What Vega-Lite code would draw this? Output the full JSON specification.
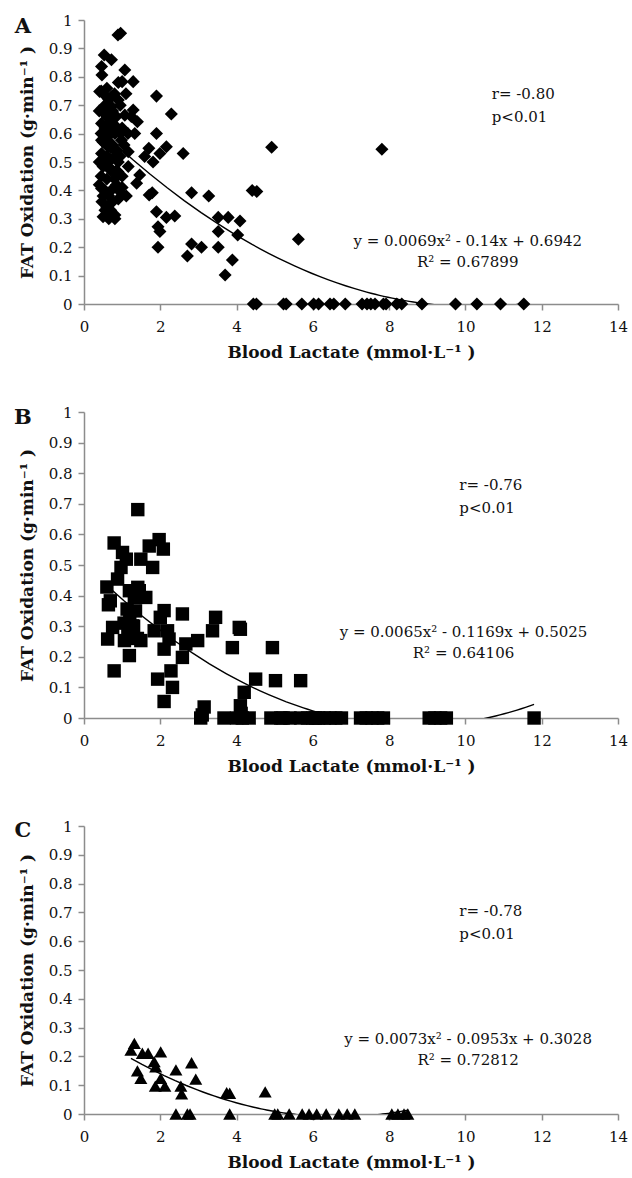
{
  "$schema": "https://vega.github.io/schema/vega-lite/v6.json",
  "background": "white",
  "padding": {"left": 14, "top": 13, "right": 0, "bottom": 3},
  "bounds": "flush",
  "spacing": 108,
  "config": {
    "font": "DejaVu Serif",
    "view": {"stroke": null},
    "axis": {
      "grid": false,
      "labelOverlap": false,
      "labelFlush": false,
      "labelSeparation": 0,
      "domainColor": "#8c8c8c",
      "domainWidth": 1.5,
      "tickColor": "#8c8c8c",
      "tickWidth": 1.5,
      "tickSize": 6,
      "labelFont": "DejaVu Serif",
      "labelFontSize": 15,
      "labelColor": "#111111",
      "titleFont": "DejaVu Serif",
      "titleFontSize": 17,
      "titleFontWeight": "bold",
      "titleColor": "#111111"
    },
    "axisX": {"labelPadding": 9, "titlePadding": 10},
    "axisY": {"labelPadding": 6, "titlePadding": 12}
  },
  "datasets": {
    "pts": [
      {"panel":"A","lactate":0.89,"fat":0.947},{"panel":"A","lactate":0.96,"fat":0.953},{"panel":"A","lactate":0.53,"fat":0.877},{"panel":"A","lactate":0.72,"fat":0.86},
      {"panel":"A","lactate":0.46,"fat":0.836},{"panel":"A","lactate":0.47,"fat":0.806},{"panel":"A","lactate":1.07,"fat":0.824},{"panel":"A","lactate":1.29,"fat":0.783},
      {"panel":"A","lactate":1.0,"fat":0.783},{"panel":"A","lactate":0.9,"fat":0.78},{"panel":"A","lactate":0.41,"fat":0.748},{"panel":"A","lactate":0.54,"fat":0.736},
      {"panel":"A","lactate":0.72,"fat":0.73},{"panel":"A","lactate":0.9,"fat":0.718},{"panel":"A","lactate":1.9,"fat":0.732},{"panel":"A","lactate":2.29,"fat":0.669},
      {"panel":"A","lactate":1.29,"fat":0.683},{"panel":"A","lactate":1.07,"fat":0.665},{"panel":"A","lactate":0.5,"fat":0.689},{"panel":"A","lactate":0.72,"fat":0.695},
      {"panel":"A","lactate":1.4,"fat":0.642},{"panel":"A","lactate":1.24,"fat":0.66},{"panel":"A","lactate":0.46,"fat":0.636},{"panel":"A","lactate":0.63,"fat":0.624},
      {"panel":"A","lactate":0.81,"fat":0.6},{"panel":"A","lactate":1.33,"fat":0.6},{"panel":"A","lactate":1.9,"fat":0.6},{"panel":"A","lactate":0.46,"fat":0.577},
      {"panel":"A","lactate":0.63,"fat":0.554},{"panel":"A","lactate":0.98,"fat":0.577},{"panel":"A","lactate":1.7,"fat":0.548},{"panel":"A","lactate":2.16,"fat":0.554},
      {"panel":"A","lactate":1.99,"fat":0.53},{"panel":"A","lactate":2.6,"fat":0.53},{"panel":"A","lactate":4.92,"fat":0.552},{"panel":"A","lactate":1.16,"fat":0.536},
      {"panel":"A","lactate":0.46,"fat":0.53},{"panel":"A","lactate":0.8,"fat":0.519},{"panel":"A","lactate":1.59,"fat":0.519},{"panel":"A","lactate":1.81,"fat":0.5},
      {"panel":"A","lactate":1.16,"fat":0.484},{"panel":"A","lactate":0.5,"fat":0.484},{"panel":"A","lactate":0.89,"fat":0.466},{"panel":"A","lactate":1.46,"fat":0.454},
      {"panel":"A","lactate":1.38,"fat":0.425},{"panel":"A","lactate":0.46,"fat":0.407},{"panel":"A","lactate":0.72,"fat":0.401},{"panel":"A","lactate":0.94,"fat":0.396},
      {"panel":"A","lactate":1.11,"fat":0.38},{"panel":"A","lactate":0.47,"fat":0.36},{"panel":"A","lactate":1.71,"fat":0.384},{"panel":"A","lactate":1.79,"fat":0.392},
      {"panel":"A","lactate":2.82,"fat":0.392},{"panel":"A","lactate":3.27,"fat":0.38},{"panel":"A","lactate":4.41,"fat":0.4},{"panel":"A","lactate":4.53,"fat":0.396},
      {"panel":"A","lactate":0.5,"fat":0.307},{"panel":"A","lactate":0.81,"fat":0.313},{"panel":"A","lactate":0.81,"fat":0.3},{"panel":"A","lactate":1.9,"fat":0.325},
      {"panel":"A","lactate":2.16,"fat":0.305},{"panel":"A","lactate":2.38,"fat":0.31},{"panel":"A","lactate":1.94,"fat":0.272},{"panel":"A","lactate":1.99,"fat":0.255},
      {"panel":"A","lactate":3.52,"fat":0.305},{"panel":"A","lactate":3.78,"fat":0.305},{"panel":"A","lactate":4.09,"fat":0.292},{"panel":"A","lactate":3.52,"fat":0.255},
      {"panel":"A","lactate":4.03,"fat":0.243},{"panel":"A","lactate":1.94,"fat":0.2},{"panel":"A","lactate":2.82,"fat":0.211},{"panel":"A","lactate":3.08,"fat":0.2},
      {"panel":"A","lactate":3.52,"fat":0.2},{"panel":"A","lactate":2.71,"fat":0.169},{"panel":"A","lactate":3.89,"fat":0.155},{"panel":"A","lactate":3.7,"fat":0.102},
      {"panel":"A","lactate":5.62,"fat":0.228},{"panel":"A","lactate":7.81,"fat":0.545},
      {"panel":"A","lactate":0.45,"fat":0.75},{"panel":"A","lactate":0.55,"fat":0.7},{"panel":"A","lactate":0.6,"fat":0.66},{"panel":"A","lactate":0.65,"fat":0.72},
      {"panel":"A","lactate":0.75,"fat":0.68},{"panel":"A","lactate":0.85,"fat":0.66},{"panel":"A","lactate":0.55,"fat":0.62},{"panel":"A","lactate":0.7,"fat":0.6},
      {"panel":"A","lactate":0.6,"fat":0.58},{"panel":"A","lactate":0.75,"fat":0.56},{"panel":"A","lactate":0.85,"fat":0.54},{"panel":"A","lactate":0.55,"fat":0.5},
      {"panel":"A","lactate":0.65,"fat":0.5},{"panel":"A","lactate":0.7,"fat":0.47},{"panel":"A","lactate":0.6,"fat":0.44},{"panel":"A","lactate":0.8,"fat":0.44},
      {"panel":"A","lactate":0.65,"fat":0.38},{"panel":"A","lactate":0.55,"fat":0.4},{"panel":"A","lactate":0.75,"fat":0.36},{"panel":"A","lactate":0.85,"fat":0.42},
      {"panel":"A","lactate":1.0,"fat":0.45},{"panel":"A","lactate":1.0,"fat":0.62},{"panel":"A","lactate":0.95,"fat":0.7},{"panel":"A","lactate":1.05,"fat":0.56},
      {"panel":"A","lactate":0.6,"fat":0.76},{"panel":"A","lactate":0.7,"fat":0.64},{"panel":"A","lactate":0.9,"fat":0.5},{"panel":"A","lactate":0.95,"fat":0.6},
      {"panel":"A","lactate":0.45,"fat":0.6},{"panel":"A","lactate":0.45,"fat":0.45},{"panel":"A","lactate":0.55,"fat":0.33},{"panel":"A","lactate":0.65,"fat":0.3},
      {"panel":"A","lactate":0.4,"fat":0.68},{"panel":"A","lactate":0.5,"fat":0.57},{"panel":"A","lactate":0.6,"fat":0.52},{"panel":"A","lactate":0.7,"fat":0.55},
      {"panel":"A","lactate":0.8,"fat":0.63},{"panel":"A","lactate":0.9,"fat":0.61},{"panel":"A","lactate":0.75,"fat":0.47},{"panel":"A","lactate":0.85,"fat":0.47},
      {"panel":"A","lactate":0.95,"fat":0.52},{"panel":"A","lactate":0.65,"fat":0.62},{"panel":"A","lactate":0.55,"fat":0.67},{"panel":"A","lactate":0.8,"fat":0.74},
      {"panel":"A","lactate":1.1,"fat":0.74},{"panel":"A","lactate":1.15,"fat":0.6},{"panel":"A","lactate":0.6,"fat":0.34},{"panel":"A","lactate":0.7,"fat":0.33},
      {"panel":"A","lactate":0.9,"fat":0.37},{"panel":"A","lactate":1.0,"fat":0.41},{"panel":"A","lactate":0.4,"fat":0.5},{"panel":"A","lactate":0.4,"fat":0.42},
      {"panel":"A","lactate":0.5,"fat":0.38},
      {"panel":"A","lactate":4.44,"fat":0},{"panel":"A","lactate":4.52,"fat":0},{"panel":"A","lactate":5.23,"fat":0},{"panel":"A","lactate":5.3,"fat":0},
      {"panel":"A","lactate":5.71,"fat":0},{"panel":"A","lactate":6.02,"fat":0},{"panel":"A","lactate":6.15,"fat":0},{"panel":"A","lactate":6.45,"fat":0},
      {"panel":"A","lactate":6.55,"fat":0},{"panel":"A","lactate":6.85,"fat":0},{"panel":"A","lactate":7.29,"fat":0},{"panel":"A","lactate":7.42,"fat":0},
      {"panel":"A","lactate":7.52,"fat":0},{"panel":"A","lactate":7.63,"fat":0},{"panel":"A","lactate":7.85,"fat":0},{"panel":"A","lactate":7.92,"fat":0},
      {"panel":"A","lactate":8.2,"fat":0},{"panel":"A","lactate":8.33,"fat":0},{"panel":"A","lactate":8.86,"fat":0},{"panel":"A","lactate":9.74,"fat":0},
      {"panel":"A","lactate":10.3,"fat":0},{"panel":"A","lactate":10.92,"fat":0},{"panel":"A","lactate":11.53,"fat":0},

      {"panel":"B","lactate":1.41,"fat":0.681},{"panel":"B","lactate":0.79,"fat":0.572},{"panel":"B","lactate":1.97,"fat":0.583},{"panel":"B","lactate":2.08,"fat":0.552},
      {"panel":"B","lactate":1.71,"fat":0.562},{"panel":"B","lactate":1.01,"fat":0.541},{"panel":"B","lactate":1.11,"fat":0.519},{"panel":"B","lactate":1.49,"fat":0.519},
      {"panel":"B","lactate":1.8,"fat":0.492},{"panel":"B","lactate":0.97,"fat":0.492},{"panel":"B","lactate":0.88,"fat":0.454},{"panel":"B","lactate":0.6,"fat":0.428},
      {"panel":"B","lactate":1.41,"fat":0.427},{"panel":"B","lactate":0.69,"fat":0.383},{"panel":"B","lactate":1.19,"fat":0.416},{"panel":"B","lactate":1.45,"fat":0.416},
      {"panel":"B","lactate":1.62,"fat":0.394},{"panel":"B","lactate":1.32,"fat":0.394},{"panel":"B","lactate":1.13,"fat":0.356},{"panel":"B","lactate":2.1,"fat":0.351},
      {"panel":"B","lactate":2.58,"fat":0.34},{"panel":"B","lactate":3.45,"fat":0.329},{"panel":"B","lactate":2.0,"fat":0.329},{"panel":"B","lactate":0.75,"fat":0.296},
      {"panel":"B","lactate":1.27,"fat":0.301},{"panel":"B","lactate":1.84,"fat":0.285},{"panel":"B","lactate":2.19,"fat":0.285},{"panel":"B","lactate":3.37,"fat":0.285},
      {"panel":"B","lactate":4.07,"fat":0.296},{"panel":"B","lactate":4.1,"fat":0.29},{"panel":"B","lactate":0.62,"fat":0.258},{"panel":"B","lactate":1.06,"fat":0.253},
      {"panel":"B","lactate":1.49,"fat":0.253},{"panel":"B","lactate":2.67,"fat":0.242},{"panel":"B","lactate":2.98,"fat":0.253},{"panel":"B","lactate":2.23,"fat":0.258},
      {"panel":"B","lactate":1.19,"fat":0.204},{"panel":"B","lactate":2.1,"fat":0.225},{"panel":"B","lactate":2.58,"fat":0.198},{"panel":"B","lactate":3.89,"fat":0.23},
      {"panel":"B","lactate":4.94,"fat":0.23},{"panel":"B","lactate":0.79,"fat":0.154},{"panel":"B","lactate":2.28,"fat":0.154},{"panel":"B","lactate":1.93,"fat":0.127},
      {"panel":"B","lactate":4.5,"fat":0.127},{"panel":"B","lactate":5.02,"fat":0.122},{"panel":"B","lactate":5.68,"fat":0.122},{"panel":"B","lactate":2.32,"fat":0.1},
      {"panel":"B","lactate":4.2,"fat":0.084},{"panel":"B","lactate":2.1,"fat":0.054},{"panel":"B","lactate":3.15,"fat":0.036},{"panel":"B","lactate":4.1,"fat":0.04},
      {"panel":"B","lactate":4.12,"fat":0.015},{"panel":"B","lactate":3.1,"fat":0.01},
      {"panel":"B","lactate":1.2,"fat":0.33},{"panel":"B","lactate":1.3,"fat":0.3},{"panel":"B","lactate":1.25,"fat":0.27},{"panel":"B","lactate":1.15,"fat":0.28},
      {"panel":"B","lactate":1.35,"fat":0.35},{"panel":"B","lactate":1.05,"fat":0.31},{"panel":"B","lactate":1.4,"fat":0.26},{"panel":"B","lactate":0.64,"fat":0.37},
      {"panel":"B","lactate":3.06,"fat":0},{"panel":"B","lactate":3.67,"fat":0},{"panel":"B","lactate":4.0,"fat":0},{"panel":"B","lactate":4.15,"fat":0},
      {"panel":"B","lactate":4.33,"fat":0},{"panel":"B","lactate":4.9,"fat":0},{"panel":"B","lactate":5.16,"fat":0},{"panel":"B","lactate":5.22,"fat":0},
      {"panel":"B","lactate":5.4,"fat":0},{"panel":"B","lactate":5.68,"fat":0},{"panel":"B","lactate":5.86,"fat":0},{"panel":"B","lactate":6.0,"fat":0},
      {"panel":"B","lactate":6.07,"fat":0},{"panel":"B","lactate":6.15,"fat":0},{"panel":"B","lactate":6.3,"fat":0},{"panel":"B","lactate":6.45,"fat":0},
      {"panel":"B","lactate":6.6,"fat":0},{"panel":"B","lactate":6.75,"fat":0},{"panel":"B","lactate":7.25,"fat":0},{"panel":"B","lactate":7.4,"fat":0},
      {"panel":"B","lactate":7.55,"fat":0},{"panel":"B","lactate":7.7,"fat":0},{"panel":"B","lactate":7.85,"fat":0},{"panel":"B","lactate":9.05,"fat":0},
      {"panel":"B","lactate":9.2,"fat":0},{"panel":"B","lactate":9.35,"fat":0},{"panel":"B","lactate":9.5,"fat":0},{"panel":"B","lactate":11.8,"fat":0},

      {"panel":"C","lactate":1.32,"fat":0.245},{"panel":"C","lactate":1.23,"fat":0.222},{"panel":"C","lactate":1.53,"fat":0.211},{"panel":"C","lactate":1.68,"fat":0.211},
      {"panel":"C","lactate":2.01,"fat":0.216},{"panel":"C","lactate":1.84,"fat":0.182},{"panel":"C","lactate":1.88,"fat":0.164},{"panel":"C","lactate":1.4,"fat":0.15},
      {"panel":"C","lactate":1.49,"fat":0.124},{"panel":"C","lactate":2.41,"fat":0.153},{"panel":"C","lactate":2.82,"fat":0.178},{"panel":"C","lactate":2.93,"fat":0.121},
      {"panel":"C","lactate":2.01,"fat":0.124},{"panel":"C","lactate":1.87,"fat":0.097},{"panel":"C","lactate":2.12,"fat":0.097},{"panel":"C","lactate":2.54,"fat":0.097},
      {"panel":"C","lactate":2.56,"fat":0.07},{"panel":"C","lactate":3.74,"fat":0.074},{"panel":"C","lactate":3.82,"fat":0.072},{"panel":"C","lactate":4.75,"fat":0.077},
      {"panel":"C","lactate":2.41,"fat":0},{"panel":"C","lactate":2.71,"fat":0},{"panel":"C","lactate":2.78,"fat":0},{"panel":"C","lactate":3.82,"fat":0},
      {"panel":"C","lactate":5.0,"fat":0},{"panel":"C","lactate":5.08,"fat":0},{"panel":"C","lactate":5.38,"fat":0},{"panel":"C","lactate":5.72,"fat":0},
      {"panel":"C","lactate":5.9,"fat":0},{"panel":"C","lactate":6.1,"fat":0},{"panel":"C","lactate":6.35,"fat":0},{"panel":"C","lactate":6.68,"fat":0},
      {"panel":"C","lactate":6.9,"fat":0},{"panel":"C","lactate":7.1,"fat":0},{"panel":"C","lactate":8.07,"fat":0},{"panel":"C","lactate":8.23,"fat":0},
      {"panel":"C","lactate":8.39,"fat":0},{"panel":"C","lactate":8.49,"fat":0}
    ],
    "notes": [
      {"panel":"A","letter":"A","stats":["r= -0.80","p<0.01"],"equation":["y = 0.0069x² - 0.14x + 0.6942","R² = 0.67899"]},
      {"panel":"B","letter":"B","stats":["r= -0.76","p<0.01"],"equation":["y = 0.0065x² - 0.1169x + 0.5025","R² = 0.64106"]},
      {"panel":"C","letter":"C","stats":["r= -0.78","p<0.01"],"equation":["y = 0.0073x² - 0.0953x + 0.3028","R² = 0.72812"]}
    ]
  },
  "vconcat": [
    {
      "width": 534, "height": 284,
      "layer": [
        {
          "data": {"name": "pts"},
          "transform": [{"filter": "datum.panel === 'A'"}],
          "mark": {"type": "point", "shape": "diamond", "filled": true, "color": "black", "opacity": 1, "size": 170},
          "encoding": {
            "x": {"field": "lactate", "type": "quantitative", "scale": {"domain": [0, 14], "nice": false},
                  "axis": {"values": [0,2,4,6,8,10,12,14], "tickCount": 20, "format": "~g", "labelFlush": false, "title": "Blood Lactate (mmol·L⁻¹ )"}},
            "y": {"field": "fat", "type": "quantitative", "scale": {"domain": [0, 1], "nice": false},
                  "axis": {"values": [0,0.1,0.2,0.3,0.4,0.5,0.6,0.7,0.8,0.9,1], "tickCount": 20, "format": "~g", "labelOverlap": false, "labelFlush": false, "title": "FAT Oxidation (g·min⁻¹ )"}}
          }
        },
        {
          "data": {"name": "pts"},
          "transform": [{"filter": "datum.panel === 'A'"}, {"regression": "fat", "on": "lactate", "method": "poly", "order": 2}],
          "mark": {"type": "line", "clip": true, "color": "black", "strokeWidth": 1.4},
          "encoding": {"x": {"field": "lactate", "type": "quantitative"}, "y": {"field": "fat", "type": "quantitative"}}
        },
        {
          "data": {"name": "notes"},
          "transform": [{"filter": "datum.panel === 'A'"}],
          "mark": {"type": "text", "align": "left", "baseline": "alphabetic", "fontSize": 15, "lineHeight": 23, "color": "#111111"},
          "encoding": {"x": {"datum": 10.69}, "y": {"datum": 0.722}, "text": {"field": "stats"}}
        },
        {
          "data": {"name": "notes"},
          "transform": [{"filter": "datum.panel === 'A'"}],
          "mark": {"type": "text", "align": "center", "baseline": "alphabetic", "fontSize": 15, "lineHeight": 21, "color": "#111111"},
          "encoding": {"x": {"datum": 10.06}, "y": {"datum": 0.204}, "text": {"field": "equation"}}
        },
        {
          "data": {"name": "notes"},
          "transform": [{"filter": "datum.panel === 'A'"}],
          "mark": {"type": "text", "align": "center", "baseline": "alphabetic", "fontSize": 21, "fontWeight": "bold", "color": "#111111"},
          "encoding": {"x": {"datum": -1.6}, "y": {"datum": 0.954}, "text": {"field": "letter"}}
        }
      ]
    },
    {
      "width": 534, "height": 306,
      "layer": [
        {
          "data": {"name": "pts"},
          "transform": [{"filter": "datum.panel === 'B'"}],
          "mark": {"type": "point", "shape": "square", "filled": true, "color": "black", "opacity": 1, "size": 180},
          "encoding": {
            "x": {"field": "lactate", "type": "quantitative", "scale": {"domain": [0, 14], "nice": false},
                  "axis": {"values": [0,2,4,6,8,10,12,14], "tickCount": 20, "format": "~g", "labelFlush": false, "title": "Blood Lactate (mmol·L⁻¹ )"}},
            "y": {"field": "fat", "type": "quantitative", "scale": {"domain": [0, 1], "nice": false},
                  "axis": {"values": [0,0.1,0.2,0.3,0.4,0.5,0.6,0.7,0.8,0.9,1], "tickCount": 20, "format": "~g", "labelOverlap": false, "labelFlush": false, "title": "FAT Oxidation (g·min⁻¹ )"}}
          }
        },
        {
          "data": {"name": "pts"},
          "transform": [{"filter": "datum.panel === 'B'"}, {"regression": "fat", "on": "lactate", "method": "poly", "order": 2}],
          "mark": {"type": "line", "clip": true, "color": "black", "strokeWidth": 1.4},
          "encoding": {"x": {"field": "lactate", "type": "quantitative"}, "y": {"field": "fat", "type": "quantitative"}}
        },
        {
          "data": {"name": "notes"},
          "transform": [{"filter": "datum.panel === 'B'"}],
          "mark": {"type": "text", "align": "left", "baseline": "alphabetic", "fontSize": 15, "lineHeight": 23, "color": "#111111"},
          "encoding": {"x": {"datum": 9.84}, "y": {"datum": 0.745}, "text": {"field": "stats"}}
        },
        {
          "data": {"name": "notes"},
          "transform": [{"filter": "datum.panel === 'B'"}],
          "mark": {"type": "text", "align": "center", "baseline": "alphabetic", "fontSize": 15, "lineHeight": 21, "color": "#111111"},
          "encoding": {"x": {"datum": 9.95}, "y": {"datum": 0.265}, "text": {"field": "equation"}}
        },
        {
          "data": {"name": "notes"},
          "transform": [{"filter": "datum.panel === 'B'"}],
          "mark": {"type": "text", "align": "center", "baseline": "alphabetic", "fontSize": 21, "fontWeight": "bold", "color": "#111111"},
          "encoding": {"x": {"datum": -1.6}, "y": {"datum": 0.961}, "text": {"field": "letter"}}
        }
      ]
    },
    {
      "width": 534, "height": 288,
      "layer": [
        {
          "data": {"name": "pts"},
          "transform": [{"filter": "datum.panel === 'C'"}],
          "mark": {"type": "point", "shape": "triangle-up", "filled": true, "color": "black", "opacity": 1, "size": 170},
          "encoding": {
            "x": {"field": "lactate", "type": "quantitative", "scale": {"domain": [0, 14], "nice": false},
                  "axis": {"values": [0,2,4,6,8,10,12,14], "tickCount": 20, "format": "~g", "labelFlush": false, "title": "Blood Lactate (mmol·L⁻¹ )"}},
            "y": {"field": "fat", "type": "quantitative", "scale": {"domain": [0, 1], "nice": false},
                  "axis": {"values": [0,0.1,0.2,0.3,0.4,0.5,0.6,0.7,0.8,0.9,1], "tickCount": 20, "format": "~g", "labelOverlap": false, "labelFlush": false, "title": "FAT Oxidation (g·min⁻¹ )"}}
          }
        },
        {
          "data": {"name": "pts"},
          "transform": [{"filter": "datum.panel === 'C'"}, {"regression": "fat", "on": "lactate", "method": "poly", "order": 2}],
          "mark": {"type": "line", "clip": true, "color": "black", "strokeWidth": 1.4},
          "encoding": {"x": {"field": "lactate", "type": "quantitative"}, "y": {"field": "fat", "type": "quantitative"}}
        },
        {
          "data": {"name": "notes"},
          "transform": [{"filter": "datum.panel === 'C'"}],
          "mark": {"type": "text", "align": "left", "baseline": "alphabetic", "fontSize": 15, "lineHeight": 23, "color": "#111111"},
          "encoding": {"x": {"datum": 9.84}, "y": {"datum": 0.6875}, "text": {"field": "stats"}}
        },
        {
          "data": {"name": "notes"},
          "transform": [{"filter": "datum.panel === 'C'"}],
          "mark": {"type": "text", "align": "center", "baseline": "alphabetic", "fontSize": 15, "lineHeight": 21, "color": "#111111"},
          "encoding": {"x": {"datum": 10.07}, "y": {"datum": 0.243}, "text": {"field": "equation"}}
        },
        {
          "data": {"name": "notes"},
          "transform": [{"filter": "datum.panel === 'C'"}],
          "mark": {"type": "text", "align": "center", "baseline": "alphabetic", "fontSize": 21, "fontWeight": "bold", "color": "#111111"},
          "encoding": {"x": {"datum": -1.6}, "y": {"datum": 0.962}, "text": {"field": "letter"}}
        }
      ]
    }
  ]
}
